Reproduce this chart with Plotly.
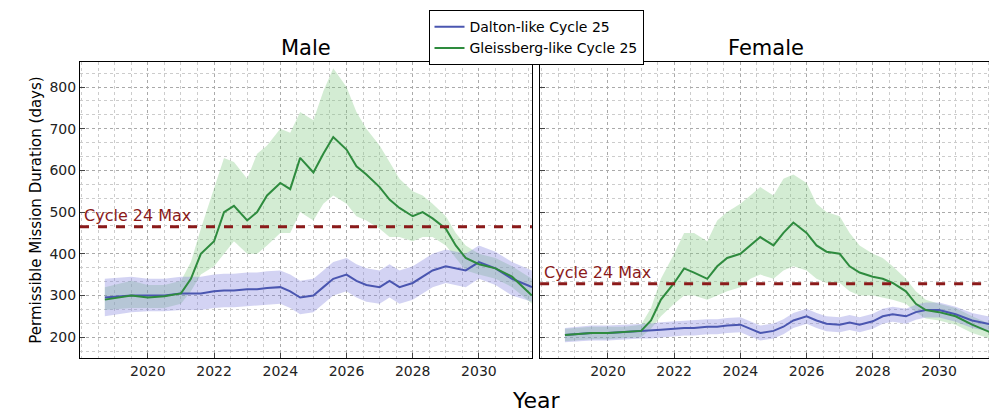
import plotly.graph_objects as go
from plotly.subplots import make_subplots

years = [2018.7, 2019.5, 2020, 2020.5, 2021, 2021.3, 2021.6, 2022, 2022.3, 2022.6, 2023, 2023.3,
         2023.6, 2024, 2024.3, 2024.6, 2025, 2025.3, 2025.6, 2026, 2026.3, 2026.6, 2027, 2027.3,
         2027.6, 2028, 2028.3, 2028.6, 2029, 2029.3, 2029.6, 2030, 2030.5, 2031, 2031.6]

male_gleiss = [290, 300, 295, 298, 305, 340, 400, 430, 500, 515, 480, 500, 540, 570, 555, 630, 595, 640,
               680, 650, 610, 590, 560, 530, 510, 490, 500, 485, 460, 420, 390, 375, 365, 345, 300]
male_gleiss_hi = [320, 335, 325, 325, 335, 380, 460, 560, 630, 620, 580, 640, 660, 700, 690, 740, 720, 790,
                  845, 800, 740, 700, 660, 620, 580, 550, 540, 520, 490, 450, 420, 400, 390, 370, 340]
male_gleiss_lo = [265, 270, 270, 270, 280, 310, 350, 370, 400, 430, 400, 400, 420, 450, 450, 500, 480, 520,
                  540, 520, 490, 480, 460, 440, 440, 430, 440, 440, 420, 390, 360, 350, 340, 320, 280]
male_dalton = [295, 300, 300, 300, 305, 305, 305, 310, 312, 312, 315, 315, 318, 320, 310, 295, 300, 320,
               340, 350, 335, 325, 320, 335, 320, 330, 345, 360, 370, 365, 360, 380, 365, 340, 320]
male_dalton_hi = [340, 345, 340, 340, 345, 345, 345, 350, 352, 352, 355, 355, 358, 360, 350, 335, 340, 360,
                  380, 390, 375, 365, 360, 375, 360, 370, 385, 400, 410, 405, 400, 420, 405, 380, 360]
male_dalton_lo = [250, 260, 262, 262, 265, 265, 265, 270, 272, 272, 275, 275, 278, 280, 270, 255, 260, 280,
                  300, 310, 295, 285, 280, 295, 280, 290, 305, 320, 330, 325, 320, 340, 325, 300, 285]

fem_gleiss = [205, 210, 210, 212, 215, 240, 290, 330, 365, 355, 340, 370, 390, 400, 420, 440, 420, 450,
              475, 450, 420, 405, 400, 370, 355, 345, 340, 330, 310, 280, 265, 260, 250, 230, 210]
fem_gleiss_hi = [220, 225, 225, 225, 230, 270, 340, 400, 450, 450, 430, 480, 500, 520, 540, 560, 540, 580,
                 590, 570, 520, 500, 490, 450, 420, 400, 390, 370, 340, 310, 290, 280, 270, 250, 230]
fem_gleiss_lo = [190, 195, 195, 198, 200, 220, 250, 280, 300, 300, 290, 300, 310, 320, 340, 350, 340, 360,
                 370, 360, 340, 330, 330, 310, 300, 300, 295, 290, 280, 260, 245, 240, 230, 210, 195]
fem_dalton = [205, 210, 210, 212, 215, 215, 218, 220, 222, 222, 225, 225, 228, 230, 220, 210, 215, 225,
              240, 250, 240, 232, 230, 235, 230, 238, 250, 255, 250, 260, 265, 265, 255, 240, 230]
fem_dalton_hi = [222, 228, 228, 230, 233, 233, 236, 238, 240, 240, 243, 243, 246, 248, 238, 228, 233, 243,
                 258, 268, 258, 250, 248, 253, 248, 256, 268, 273, 268, 278, 283, 283, 273, 258, 248]
fem_dalton_lo = [188, 192, 192, 194, 197, 197, 200, 202, 204, 204, 207, 207, 210, 212, 202, 192, 197, 207,
                 222, 232, 222, 214, 212, 217, 212, 220, 232, 237, 232, 242, 247, 247, 237, 222, 212]

cycle24_max = {"male": 465, "female": 328}

BLUE = "#4a56b0"
GREEN = "#2e8b3e"
RED = "#8b1a1a"

fig = make_subplots(rows=1, cols=2, shared_yaxes=True, horizontal_spacing=0.009,
                    subplot_titles=("Male", "Female"))

panels = [
    (1, male_dalton, male_dalton_lo, male_dalton_hi, male_gleiss, male_gleiss_lo, male_gleiss_hi, "male"),
    (2, fem_dalton, fem_dalton_lo, fem_dalton_hi, fem_gleiss, fem_gleiss_lo, fem_gleiss_hi, "female"),
]

for col, d, dlo, dhi, g, glo, ghi, key in panels:
    # bands
    fig.add_trace(go.Scatter(x=years + years[::-1], y=ghi + glo[::-1], fill="toself",
                             fillcolor="rgba(130,200,130,0.35)", line=dict(width=0),
                             showlegend=False, hoverinfo="skip"), row=1, col=col)
    fig.add_trace(go.Scatter(x=years + years[::-1], y=dhi + dlo[::-1], fill="toself",
                             fillcolor="rgba(130,130,220,0.35)", line=dict(width=0),
                             showlegend=False, hoverinfo="skip"), row=1, col=col)
    fig.add_trace(go.Scatter(x=years, y=d, mode="lines", line=dict(color=BLUE, width=2),
                             name="Dalton-like Cycle 25", showlegend=(col == 1)), row=1, col=col)
    fig.add_trace(go.Scatter(x=years, y=g, mode="lines", line=dict(color=GREEN, width=2),
                             name="Gleissberg-like Cycle 25", showlegend=(col == 1)), row=1, col=col)
    fig.add_trace(go.Scatter(x=[2017.95, 2031.6], y=[cycle24_max[key]] * 2, mode="lines",
                             line=dict(color=RED, width=3, dash="dash"), showlegend=False,
                             hoverinfo="skip"), row=1, col=col)
    fig.add_annotation(x=2018.0, y=cycle24_max[key], text="Cycle 24 Max", showarrow=False,
                       xanchor="left", yanchor="bottom", font=dict(size=16, color=RED),
                       row=1, col=col)

axis_style = dict(showline=True, linecolor="black", mirror=True, ticks="inside",
                  showgrid=True, gridcolor="#aaaaaa", griddash="dot", gridwidth=1,
                  tickfont=dict(size=14, color="#222"), zeroline=False, automargin=False)
fig.update_xaxes(range=[2017.95, 2031.6], tickvals=[2020, 2022, 2024, 2026, 2028, 2030],
                 minor=dict(dtick=0.5, showgrid=True, gridcolor="#cccccc", griddash="dot"),
                 **axis_style)
fig.update_yaxes(range=[150, 860], tickvals=[200, 300, 400, 500, 600, 700, 800],
                 minor=dict(dtick=100 / 3, showgrid=True, gridcolor="#cccccc", griddash="dot"),
                 **axis_style)
fig.update_yaxes(title_text="Permissible Mission Duration (days)", title_font=dict(size=15),
                 title_standoff=4, row=1, col=1)

fig.update_annotations(selector=dict(text="Male"), font=dict(size=21, color="black"))
fig.update_annotations(selector=dict(text="Female"), font=dict(size=21, color="black"))

fig.add_annotation(text="Year", x=0.5, y=-0.095, xref="paper", yref="paper", showarrow=False,
                   font=dict(size=22, color="black"), yanchor="top")

fig.update_layout(
    width=997, height=414,
    margin=dict(l=72, r=13, t=54, b=64, autoexpand=False),
    plot_bgcolor="white", paper_bgcolor="white",
    font=dict(family="DejaVu Sans", color="black"),
    legend=dict(x=0.5, y=1.175, xanchor="center", yanchor="top", bordercolor="black",
                borderwidth=1, font=dict(size=14), bgcolor="white"),
)

fig.write_html("out.html")
